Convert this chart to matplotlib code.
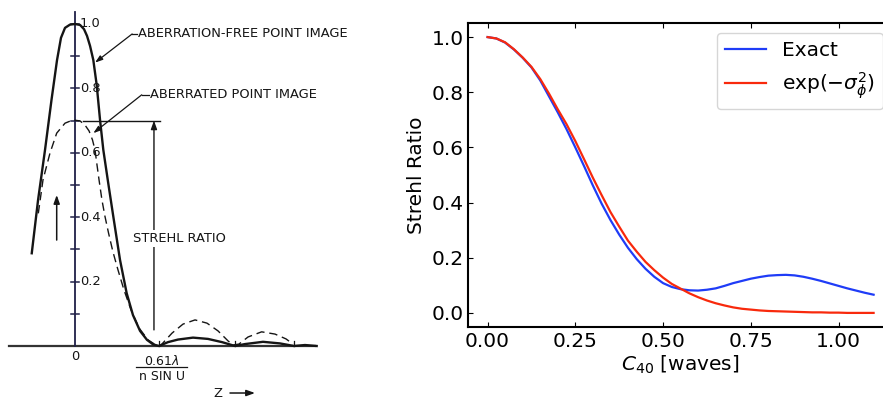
import matplotlib
matplotlib.use('Agg')
import matplotlib.pyplot as plt
import numpy as np

# ---- left panel: schematic point images (x in units of 0.61 lambda / n sin U) ----
free_x = [-0.515, -0.440, -0.357, -0.280, -0.214, -0.167, -0.119, -0.060, 0.0,
          0.060, 0.107, 0.143, 0.179, 0.218, 0.258, 0.298, 0.337, 0.396, 0.456,
          0.536, 0.615, 0.690, 0.774, 0.857, 0.929, 1.0,
          1.107, 1.226, 1.405, 1.583, 1.750, 1.905,
          2.024, 2.238, 2.440, 2.607, 2.738, 2.877]
free_y = [0.288, 0.453, 0.609, 0.764, 0.888, 0.957, 0.988, 0.998, 1.0,
          0.997, 0.984, 0.963, 0.932, 0.888, 0.811, 0.702, 0.609, 0.505, 0.402,
          0.267, 0.164, 0.096, 0.047, 0.019, 0.005, 0.0,
          0.012, 0.020, 0.026, 0.022, 0.012, 0.0,
          0.006, 0.013, 0.008, 0.0, 0.003, 0.0]

aber_x = [-0.437, -0.381, -0.298, -0.218, -0.119, -0.024, 0.060, 0.119, 0.167,
          0.208, 0.238, 0.262, 0.286, 0.321, 0.357, 0.399, 0.452, 0.512, 0.583,
          0.667, 0.762, 0.869, 0.952, 1.0,
          1.024, 1.155, 1.286, 1.429, 1.571, 1.702, 1.821, 1.881,
          1.952, 2.060, 2.222, 2.381, 2.512, 2.595]
aber_y = [0.412, 0.516, 0.599, 0.661, 0.692, 0.702, 0.699, 0.686, 0.668,
          0.640, 0.609, 0.562, 0.516, 0.453, 0.402, 0.351, 0.292, 0.236, 0.174,
          0.112, 0.056, 0.019, 0.005, 0.0,
          0.003, 0.040, 0.068, 0.081, 0.071, 0.047, 0.016, 0.003,
          0.006, 0.028, 0.044, 0.037, 0.022, 0.006]

zeros_x = [1.0, 1.905, 2.607]
ytick_vals = [0.1, 0.2, 0.3, 0.4, 0.5, 0.6, 0.7, 0.8, 0.9, 1.0]
ytick_labels = {0.2: '0.2', 0.4: '0.4', 0.6: '0.6', 0.8: '0.8', 1.0: '1.0'}
strehl = 0.70

# ---- right panel: Strehl ratio vs C40 ----
c40 = [0.000, 0.025, 0.050, 0.075, 0.100, 0.125, 0.150, 0.175, 0.200, 0.225,
       0.250, 0.275, 0.300, 0.325, 0.350, 0.375, 0.400, 0.425, 0.450, 0.475,
       0.500, 0.525, 0.550, 0.575, 0.600, 0.625, 0.650, 0.675, 0.700, 0.725,
       0.750, 0.775, 0.800, 0.825, 0.850, 0.875, 0.900, 0.925, 0.950, 0.975,
       1.000, 1.025, 1.050, 1.075, 1.100]
exact = [1.000, 0.995, 0.980, 0.955, 0.925, 0.890, 0.843, 0.785, 0.727, 0.666,
         0.600, 0.532, 0.462, 0.396, 0.337, 0.284, 0.236, 0.195, 0.160, 0.131,
         0.108, 0.094, 0.086, 0.082, 0.081, 0.084, 0.089, 0.098, 0.108, 0.116,
         0.124, 0.130, 0.135, 0.137, 0.138, 0.136, 0.131, 0.124, 0.116, 0.107,
         0.098, 0.089, 0.081, 0.073, 0.066]
approx = [1.000, 0.995, 0.981, 0.956, 0.926, 0.892, 0.848, 0.795, 0.738, 0.684,
          0.623, 0.557, 0.490, 0.427, 0.366, 0.313, 0.262, 0.222, 0.185, 0.155,
          0.128, 0.105, 0.088, 0.071, 0.057, 0.045, 0.035, 0.027, 0.020, 0.015,
          0.012, 0.009, 0.007, 0.006, 0.005, 0.004, 0.003, 0.002, 0.002, 0.001,
          0.001, 0.000, 0.000, 0.000, 0.000]

fig = plt.figure(figsize=(8.83, 3.99), dpi=100)

# left schematic
ax1 = fig.add_axes([0, 0, 380 / 883, 1])
ax1.set_xlim(-0.893, 3.631)
ax1.set_ylim(-0.1646, 1.0745)
ax1.axis('off')

ink = '#151515'
fs = 9.4
ax1.plot([-0.782, 2.857], [0, 0], color='#333333', lw=1.6, zorder=3)
ax1.plot([0, 0], [0, 1.037], color='#202048', lw=1.3, zorder=3)
for v in ytick_vals:
    ax1.plot([-0.048, 0.048], [v, v], color='#202048', lw=1.1, zorder=3)
    if v in ytick_labels:
        ax1.text(0.06, v, ytick_labels[v], fontsize=fs, ha='left', va='center', color=ink)
for z in zeros_x:
    ax1.plot([z, z], [0, 0.016], color=ink, lw=0.9)

ax1.plot(free_x, free_y, color=ink, lw=1.7, zorder=4)
ax1.plot(aber_x, aber_y, color=ink, lw=1.0, ls=(0, (6, 3.5)), zorder=4)

# strehl ratio marker
ax1.plot([0.092, 1.012], [strehl, strehl], color=ink, lw=1.0)
ax1.annotate('', xy=(0.94, strehl), xytext=(0.94, 0.05),
             arrowprops=dict(arrowstyle='-|>,head_length=0.5,head_width=0.18',
                             color=ink, lw=1.0, shrinkA=0, shrinkB=0))
ax1.text(1.238, 0.335, 'STREHL RATIO', fontsize=fs, ha='center', va='center',
         color=ink, zorder=5, bbox=dict(facecolor='white', edgecolor='none', pad=1.5))

# leaders
ax1.text(0.75, 0.969, 'ABERRATION-FREE POINT IMAGE', fontsize=fs, ha='left', va='center', color=ink)
ax1.plot([0.68, 0.74], [0.969, 0.969], color=ink, lw=0.9)
ax1.annotate('', xy=(0.238, 0.880), xytext=(0.68, 0.969),
             arrowprops=dict(arrowstyle='-|>,head_length=0.45,head_width=0.15',
                             color=ink, lw=0.9, shrinkA=0, shrinkB=0))
ax1.text(0.893, 0.780, 'ABERRATED POINT IMAGE', fontsize=fs, ha='left', va='center', color=ink)
ax1.plot([0.794, 0.883], [0.780, 0.780], color=ink, lw=0.9)
ax1.annotate('', xy=(0.218, 0.661), xytext=(0.794, 0.780),
             arrowprops=dict(arrowstyle='-|>,head_length=0.45,head_width=0.15',
                             color=ink, lw=0.9, shrinkA=0, shrinkB=0))

# intensity arrow
ax1.annotate('', xy=(-0.218, 0.469), xytext=(-0.218, 0.329),
             arrowprops=dict(arrowstyle='-|>,head_length=0.5,head_width=0.18',
                             color=ink, lw=1.1, shrinkA=0, shrinkB=0))

# axis texts
ax1.text(0.0, -0.034, '0', fontsize=fs, ha='center', va='center', color=ink)
ax1.text(1.03, -0.048, r'0.61$\lambda$', fontsize=9, ha='center', va='center', color=ink)
ax1.plot([0.726, 1.333], [-0.064, -0.064], color=ink, lw=0.9)
ax1.text(1.03, -0.096, 'n SIN U', fontsize=9, ha='center', va='center', color=ink)
ax1.text(1.702, -0.146, 'Z', fontsize=fs, ha='center', va='center', color=ink)
ax1.annotate('', xy=(2.143, -0.146), xytext=(1.845, -0.146),
             arrowprops=dict(arrowstyle='-|>,head_length=0.5,head_width=0.18',
                             color=ink, lw=1.1, shrinkA=0, shrinkB=0))

# right plot
ax2 = fig.add_axes([468.3 / 883, 72.3 / 399, (892.9 - 468.3) / 883, 303.4 / 399])
ax2.plot(c40, exact, color='#1f3cf7', lw=1.6, label='Exact')
ax2.plot(c40, approx, color='#f8290c', lw=1.6, label=r'$\exp(-\sigma_\phi^2)$')
ax2.set_xlim(-0.055, 1.155)
ax2.set_ylim(-0.05, 1.05)
ax2.set_xticks([0.0, 0.25, 0.5, 0.75, 1.0])
ax2.set_yticks([0.0, 0.2, 0.4, 0.6, 0.8, 1.0])
ax2.xaxis.set_major_formatter(matplotlib.ticker.FormatStrFormatter('%.2f'))
ax2.yaxis.set_major_formatter(matplotlib.ticker.FormatStrFormatter('%.1f'))
ax2.tick_params(direction='in', top=True, right=True, labelsize=14.5)
for s in ax2.spines.values():
    s.set_linewidth(1.5)
ax2.set_xlabel(r'$C_{40}$ [waves]', fontsize=14.5, labelpad=2)
ax2.set_ylabel('Strehl Ratio', fontsize=14.5)
ax2.legend(loc='upper right', fontsize=14.5)

fig.savefig('out.png', dpi=100)
